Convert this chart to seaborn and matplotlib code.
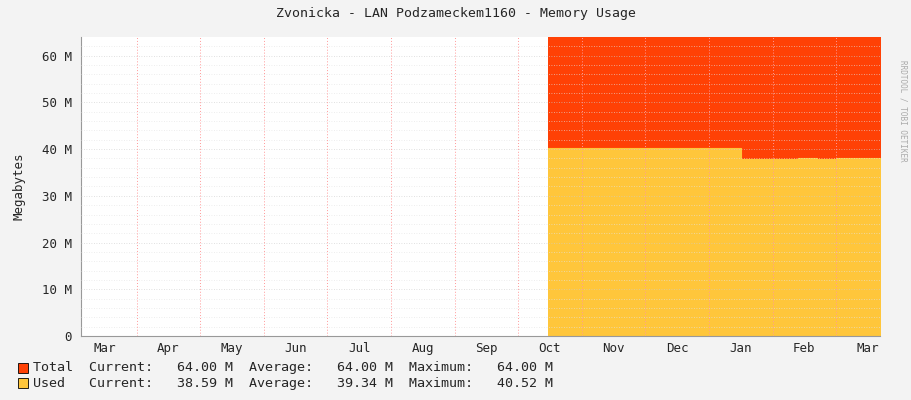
import matplotlib
matplotlib.use("Agg")
import matplotlib.pyplot as plt
import seaborn as sns
import numpy as np
import pandas as pd

# position in months counted from start of March
months_pos = [7.47, 7.8, 8.1, 8.4, 8.7, 9.0, 9.3, 9.6, 9.9, 10.2, 10.5, 10.8, 11.1, 11.4, 11.7, 12.0, 12.3, 12.7]
total = [64.0] * len(months_pos)
used = [40.3, 40.3, 40.2, 40.3, 40.2, 40.3, 40.3, 40.2, 40.3, 40.3, 37.9, 37.8, 37.9, 38.0, 37.9, 38.0, 38.0, 38.0]
months = ["Mar", "Apr", "May", "Jun", "Jul", "Aug", "Sep", "Oct", "Nov", "Dec", "Jan", "Feb", "Mar"]
legend_rows = [("Total", "64.00 M", "64.00 M", "64.00 M", "#FF4105"),
               ("Used", "38.59 M", "39.34 M", "40.52 M", "#FFC63B")]

sns.set_style("white")
plt.rcParams["font.family"] = ["DejaVu Sans Mono"]
df = pd.DataFrame({"m": months_pos, "total": total, "used": used})

fig = plt.figure(figsize=(9.11, 4.0), dpi=100, facecolor="#F3F3F3")
ax = fig.add_axes([81/911, 64/400, 799/911, 299/400])
ax.set_facecolor("white")
ax.fill_between(df.m, 0, df.total, color="#FF4105", step="post", lw=0)
ax.fill_between(df.m, 0, df.used, color="#FFC63B", step="post", lw=0)
sns.lineplot(data=df, x="m", y="used", ax=ax, color="#FFC63B", lw=0.8, drawstyle="steps-post")
ax.set_xlim(0.125, 12.69)
ax.set_ylim(0, 64)
for y in np.arange(2, 64, 2):
    ax.axhline(y, color="#E2E2E2" if y % 10 else "#CCCCCC", lw=0.6, ls=(0, (1, 2)), zorder=3, alpha=0.8)
for ms in range(1, 13):
    ax.axvline(ms, color="#FF9999", lw=0.7, ls=(0, (1, 2)), zorder=3)
ax.set_xticks([i + 0.5 for i in range(len(months))])
ax.set_xticklabels(months, fontsize=9)
ax.tick_params(axis="x", length=0, pad=4)
ax.set_yticks(range(0, 61, 10))
ax.set_yticklabels(["0"] + [f"{v} M" for v in range(10, 61, 10)], fontsize=9)
ax.tick_params(axis="y", length=3, color="#999999")
ax.set_xlabel("")
ax.set_ylabel("Megabytes", fontsize=9, labelpad=12)
for s in ["top", "right"]:
    ax.spines[s].set_visible(False)
ax.spines["left"].set_color("#999999")
ax.spines["bottom"].set_color("#999999")
fig.text(0.5, 1 - 14/400, "Zvonicka - LAN Podzameckem1160 - Memory Usage", ha="center", va="center", fontsize=9.5)
fig.text(903/911, 0.85, "RRDTOOL / TOBI OETIKER", rotation=270, fontsize=5.5, color="#AAAAAA", ha="center", va="top")
for i, (name, cur, avg, mx, col) in enumerate(legend_rows):
    yy = 1 - (368 + 15*i)/400
    fig.patches.append(plt.Rectangle((18/911, yy - 5/400), 10/911, 10/400, transform=fig.transFigure,
                                     facecolor=col, edgecolor="black", lw=0.6))
    fig.text(33/911, yy, f"{name:<7}Current:{cur:>10}  Average:{avg:>10}  Maximum:{mx:>10}", va="center", fontsize=9.6)
fig.savefig("out.png", dpi=100, facecolor=fig.get_facecolor())
